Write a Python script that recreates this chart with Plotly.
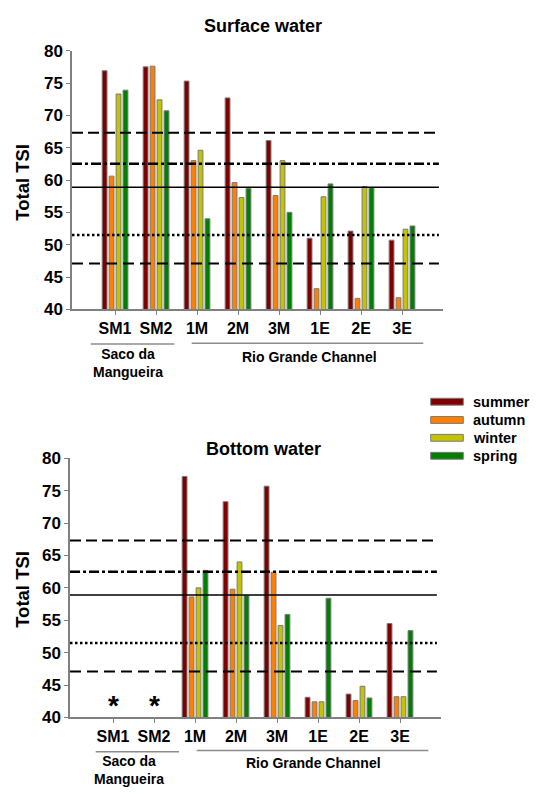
import plotly.graph_objects as go

# ---------------- data ----------------
stations = ["SM1", "SM2", "1M", "2M", "3M", "1E", "2E", "3E"]
seasons = ["summer", "autumn", "winter", "spring"]
season_colors = ["#800000", "#FF8000", "#C3C300", "#008000"]

surface_summer = [76.9, 77.5, 75.3, 72.7, 66.1, 51.0, 52.1, 50.7]
surface_autumn = [60.6, 77.6, 63.0, 59.6, 57.6, 43.2, 41.7, 41.8]
surface_winter = [73.3, 72.4, 64.6, 57.3, 63.0, 57.4, 59.0, 52.4]
surface_spring = [73.9, 70.7, 54.0, 58.7, 55.0, 59.4, 58.8, 52.9]

bottom_summer = [None, None, 77.2, 73.3, 75.7, 43.1, 43.6, 54.5]
bottom_autumn = [None, None, 58.6, 59.8, 62.4, 42.4, 42.6, 43.2]
bottom_winter = [None, None, 60.0, 64.0, 54.2, 42.4, 44.8, 43.2]
bottom_spring = [None, None, 62.7, 58.8, 55.9, 58.4, 43.0, 53.4]

missing_stations = ["SM1", "SM2"]  # marked with *

# trophic-state reference levels (value, dash style)
ref_levels = [67.3, 62.5, 58.9, 51.5, 47.1]
ref_dashes = ["11px,5px", "10px,3px,3px,3px", "solid", "2.5px,2.5px", "11px,6px"]
ref_widths = [2, 2.5, 1.5, 2.5, 2]

y_ticks = [40, 45, 50, 55, 60, 65, 70, 75, 80]

surface = [surface_summer, surface_autumn, surface_winter, surface_spring]
bottom = [bottom_summer, bottom_autumn, bottom_winter, bottom_spring]

W, H = 537, 797
FONT = "Arial, Liberation Sans, sans-serif"


def px(x):
    return x / W


def py(y):
    return 1 - y / H


fig = go.Figure()
for i, s in enumerate(seasons):
    fig.add_bar(x=stations, y=surface[i], name=s, xaxis="x", yaxis="y",
                marker=dict(color=season_colors[i], line=dict(color="#7a7a7a", width=1)),
                showlegend=False)
    fig.add_bar(x=stations, y=bottom[i], name=s, xaxis="x2", yaxis="y2",
                marker=dict(color=season_colors[i], line=dict(color="#7a7a7a", width=1)),
                showlegend=False)

axis_common = dict(showline=True, linecolor="#808080", linewidth=1.5, ticks="outside",
                   ticklen=4, tickcolor="#808080", showgrid=False, zeroline=False)

fig.update_layout(
    width=W, height=H, margin=dict(l=0, r=0, t=0, b=0),
    paper_bgcolor="white", plot_bgcolor="white",
    barmode="group", bargap=0.32, bargroupgap=0.31,
    font=dict(family=FONT, color="black"),
    xaxis=dict(axis_common, type="category", categoryorder="array", categoryarray=stations,
               range=[-1.05, 8], domain=[px(72), px(443)], anchor="y",
               tickfont=dict(size=16, weight="bold", family=FONT)),
    yaxis=dict(axis_common, range=[40, 80], tickvals=y_ticks, domain=[py(307.7), py(42.7)],
               anchor="x", tickfont=dict(size=17, weight="bold", family=FONT)),
    xaxis2=dict(axis_common, type="category", categoryorder="array", categoryarray=stations,
                range=[-1.05, 8], domain=[px(70), px(441)], anchor="y2",
                tickfont=dict(size=16, weight="bold", family=FONT)),
    yaxis2=dict(axis_common, range=[40, 80], tickvals=y_ticks, domain=[py(725.7), py(460.3)],
                anchor="x2", tickfont=dict(size=17, weight="bold", family=FONT)),
)

shapes = []
# reference lines
for xr, yr in (("x", "y"), ("x2", "y2")):
    for v, d, w in zip(ref_levels, ref_dashes, ref_widths):
        shapes.append(dict(type="line", xref=xr, yref=yr, x0=-1.05, x1=7.9, y0=v, y1=v,
                           line=dict(color="black", width=w, dash=d), layer="above"))

# group separator lines (paper px)
for x0, x1, y in [(90.7, 174.3, 343.3), (191.7, 423.3, 342.5),
                  (95.7, 179, 761), (196.7, 428.3, 759.5)]:
    shapes.append(dict(type="line", xref="paper", yref="paper", x0=px(x0), x1=px(x1),
                       y0=py(y), y1=py(y), line=dict(color="#8c8c8c", width=1.5)))

# legend swatches
legend_rows = [402.3, 421.0, 439.3, 457.7]
for i, s in enumerate(seasons):
    yc = legend_rows[i]
    shapes.append(dict(type="rect", xref="paper", yref="paper", x0=px(430.7), x1=px(463.3),
                       y0=py(yc + 3.5), y1=py(yc - 3.5), fillcolor=season_colors[i],
                       line=dict(color="#7a7a7a", width=1)))

annotations = []
for i, s in enumerate(seasons):
    annotations.append(dict(xref="paper", yref="paper", x=px(470.7), y=py(legend_rows[i]),
                            text="<b>%s</b>" % s, showarrow=False, xanchor="left",
                            yanchor="middle", font=dict(size=14.5, family=FONT)))

# titles
annotations.append(dict(xref="paper", yref="paper", x=px(263), y=py(17), text="<b>Surface water</b>",
                        showarrow=False, xanchor="center", yanchor="middle", font=dict(size=18)))
annotations.append(dict(xref="paper", yref="paper", x=px(263), y=py(451), text="<b>Bottom water</b>",
                        showarrow=False, xanchor="center", yanchor="middle", font=dict(size=18)))
# y titles
for yc in (178, 595):
    annotations.append(dict(xref="paper", yref="paper", x=px(23), y=py(yc), text="<b>Total TSI</b>",
                            showarrow=False, textangle=-90, xanchor="center", yanchor="middle",
                            font=dict(size=18.5)))
# group labels
for xc, yc, t in [(128.3, 362.2, "Saco da<br>Mangueira"), (309, 356.7, "Rio Grande Channel"),
                  (128.5, 779.7, "Saco da<br>Mangueira"), (313, 772.7, "Rio Grande Channel")]:
    annotations.append(dict(xref="paper", yref="paper", x=px(xc), y=py(yc), text="<b>%s</b>" % t,
                            showarrow=False, xanchor="center", yanchor="middle",
                            font=dict(size=14)))
# asterisks for missing bottom data
for st in missing_stations:
    annotations.append(dict(xref="x2", yref="y2", x=st, y=41.8, text="<b>*</b>", showarrow=False,
                            xanchor="center", yanchor="middle", font=dict(size=28)))

fig.update_layout(shapes=shapes, annotations=annotations)
fig.write_html("out.html")
